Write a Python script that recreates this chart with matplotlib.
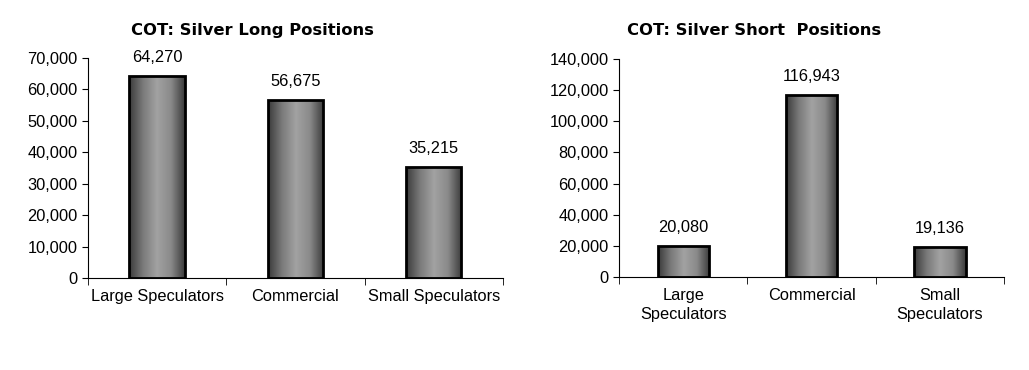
import numpy as np
import matplotlib.pyplot as plt
from matplotlib.colors import LinearSegmentedColormap

long_categories = ['Large Speculators', 'Commercial', 'Small Speculators']
long_values = [64270, 56675, 35215]
short_categories = ['Large\nSpeculators', 'Commercial', 'Small\nSpeculators']
short_values = [20080, 116943, 19136]

plt.rcParams['font.family'] = ['Liberation Sans', 'DejaVu Sans']
FS = 11.8

grad = LinearSegmentedColormap.from_list(
    'bar', ['#3a3a3a', '#7a7a7a', '#a2a2a2', '#8a8a8a', '#3a3a3a'])
strip = np.linspace(0, 1, 256).reshape(1, -1)


def draw(ax, cats, vals, ymax, step, title, title_x):
    x = np.arange(len(cats))
    bars = ax.bar(x, vals, width=0.4, facecolor='none', edgecolor='black',
                  linewidth=2, zorder=3)
    for b, v in zip(bars, vals):
        x0, w, h = b.get_x(), b.get_width(), b.get_height()
        im = ax.imshow(strip, cmap=grad, aspect='auto', extent=[x0, x0 + w, 0, h],
                       zorder=2, interpolation='bilinear')
        im.set_clip_path(b)
        ax.annotate(f'{v:,}', (x0 + w / 2, h), xytext=(0, 8),
                    textcoords='offset points', ha='center', va='bottom',
                    fontsize=FS)
    ax.set_xlim(-0.5, len(cats) - 0.5)
    ax.set_ylim(0, ymax)
    ax.set_yticks(np.arange(0, ymax + 1, step))
    ax.yaxis.set_major_formatter(plt.FuncFormatter(lambda v, p: f'{int(v):,}'))
    ax.set_xticks(x)
    ax.set_xticklabels(cats, linespacing=1.35)
    ax.set_xticks(np.arange(-0.5, len(cats)), minor=True)
    ax.tick_params(axis='x', which='major', length=0, pad=8, labelsize=FS)
    ax.tick_params(axis='x', which='minor', length=5, direction='out')
    ax.tick_params(axis='y', length=4, direction='out', labelsize=FS)
    for s in ['top', 'right']:
        ax.spines[s].set_visible(False)
    ax.figure.text(title_x, 0.918, title, ha='center', va='center',
                   fontsize=11.8, fontweight='heavy', family='DejaVu Sans')


fig = plt.figure(figsize=(10.29, 3.7), dpi=100)
ax1 = fig.add_axes([0.0855, 0.2486, 0.4033, 0.5946])
ax2 = fig.add_axes([0.6016, 0.2514, 0.3741, 0.589])

draw(ax1, long_categories, long_values, 70000, 10000,
     'COT: Silver Long Positions', 252 / 1029)
draw(ax2, short_categories, short_values, 140000, 20000,
     'COT: Silver Short  Positions', 754 / 1029)

plt.savefig('out.png', dpi=100)
